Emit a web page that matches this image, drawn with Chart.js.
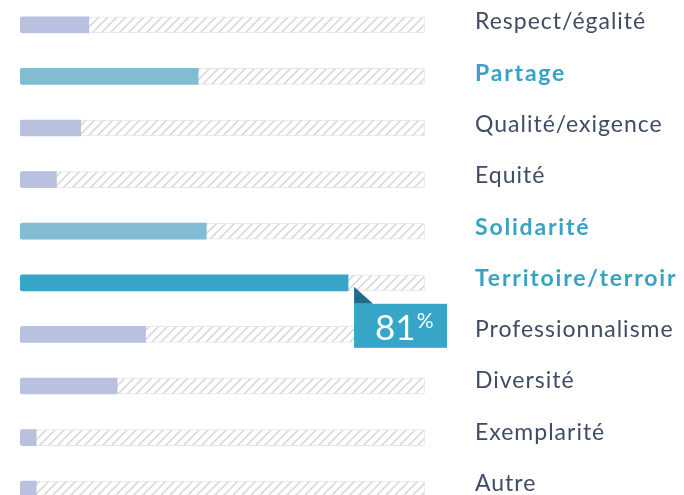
<!DOCTYPE html>
<html>
<head>
<meta charset="utf-8">
<script src="https://cdn.jsdelivr.net/npm/chart.js@4"></script>
<style>
  html, body { margin: 0; padding: 0; background: #fff; overflow: hidden; }
  #wrap { position: absolute; left: 0; top: -1px; width: 684px; height: 516px; }
</style>
</head>
<body>
<div id="wrap"><canvas id="valuesChart"></canvas></div>
<script>
// values (percent)
const categories = ['Respect/égalité', 'Partage', 'Qualité/exigence', 'Equité', 'Solidarité',
    'Territoire/terroir', 'Professionnalisme', 'Diversité', 'Exemplarité', 'Autre'];
const values = [17, 44, 15, 9, 46, 81, 31, 24, 4, 4];
const trackValues = [100, 100, 100, 100, 100, 100, 100, 100, 100, 100];
const highlighted = ['Partage', 'Solidarité', 'Territoire/terroir'];
const mainCategory = 'Territoire/terroir';

const LAVENDER = '#b9c1e1';
const LIGHT_TEAL = '#82bcd4';
const TEAL = '#36a5c7';
const DARK_TEAL = '#1e6d8c';
const TEXT = '#3f4c64';
const FONT = 'Lato, "Open Sans", sans-serif';

// diagonal hatch for the empty part of each bar
function hatchPattern() {
    const s = 9;
    const c = document.createElement('canvas');
    c.width = s; c.height = s;
    const g = c.getContext('2d');
    g.fillStyle = '#ffffff';
    g.fillRect(0, 0, s, s);
    g.strokeStyle = '#dadada';
    g.lineWidth = 1.6;
    g.beginPath();
    g.moveTo(-1, 1); g.lineTo(1, -1);
    g.moveTo(0, s); g.lineTo(s, 0);
    g.moveTo(s - 1, s + 1); g.lineTo(s + 1, s - 1);
    g.stroke();
    return g.createPattern(c, 'repeat');
}

const barColors = categories.map(c => {
    if (c === mainCategory) return TEAL;
    if (highlighted.includes(c)) return LIGHT_TEAL;
    return LAVENDER;
});

// labels on the right, drawn from the category scale
const labelPlugin = {
    id: 'rightLabels',
    afterDraw(chart) {
        const ctx = chart.ctx;
        const yScale = chart.scales.y;
        ctx.save();
        ctx.textAlign = 'left';
        ctx.textBaseline = 'alphabetic';
        categories.forEach((c, i) => {
            const y = yScale.getPixelForValue(i);
            const hl = highlighted.includes(c);
            ctx.font = (hl ? 'bold ' : '') + '23px ' + FONT;
            ctx.letterSpacing = hl ? '1.8px' : '1px';
            ctx.fillStyle = hl ? '#37a3c4' : TEXT;
            ctx.fillText(c, 475, y + 4.5 - i * 0.3);
        });
        ctx.restore();
    }
};

// callout under the main bar
const calloutPlugin = {
    id: 'callout',
    afterDatasetsDraw(chart) {
        const idx = categories.indexOf(mainCategory);
        const bar = chart.getDatasetMeta(1).data[idx];
        if (!bar) return;
        const ctx = chart.ctx;
        const x = bar.x + 6;
        const top = bar.y + 21;
        ctx.save();
        ctx.fillStyle = DARK_TEAL;
        ctx.beginPath();
        ctx.moveTo(x, bar.y + 4);
        ctx.lineTo(x, top);
        ctx.lineTo(x + 19, top);
        ctx.closePath();
        ctx.fill();
        ctx.fillStyle = TEAL;
        ctx.fillRect(x, top, 93, 44);
        ctx.fillStyle = '#ffffff';
        ctx.textBaseline = 'alphabetic';
        ctx.textAlign = 'left';
        ctx.font = '35px ' + FONT;
        const txt = values[idx] + '';
        ctx.fillText(txt, x + 21, top + 36);
        const w = ctx.measureText(txt).width;
        ctx.font = '21px ' + FONT;
        ctx.fillText('%', x + 22 + w, top + 24);
        ctx.restore();
    }
};

const ctx = document.getElementById('valuesChart').getContext('2d');
new Chart(ctx, {
    type: 'bar',
    data: {
        labels: categories,
        datasets: [
            {
                label: 'track',
                data: trackValues,
                backgroundColor: hatchPattern(),
                borderColor: '#e6e6e6',
                borderWidth: 1,
                borderRadius: 3,
                borderSkipped: false,
                barThickness: 16,
                order: 2
            },
            {
                label: 'Réponses (%)',
                data: values,
                backgroundColor: barColors,
                borderWidth: 0,
                borderRadius: { topLeft: 3, bottomLeft: 3, topRight: 0, bottomRight: 0 },
                borderSkipped: false,
                barThickness: 16,
                order: 1
            }
        ]
    },
    options: {
        indexAxis: 'y',
        responsive: true,
        maintainAspectRatio: false,
        animation: false,
        layout: { padding: { left: 20, right: 259, top: 0, bottom: 0 } },
        datasets: { bar: { grouped: false } },
        scales: {
            x: { display: false, min: 0, max: 100 },
            y: { display: false }
        },
        plugins: {
            legend: { display: false },
            tooltip: { enabled: false }
        }
    },
    plugins: [labelPlugin, calloutPlugin]
});
</script>
</body>
</html>
